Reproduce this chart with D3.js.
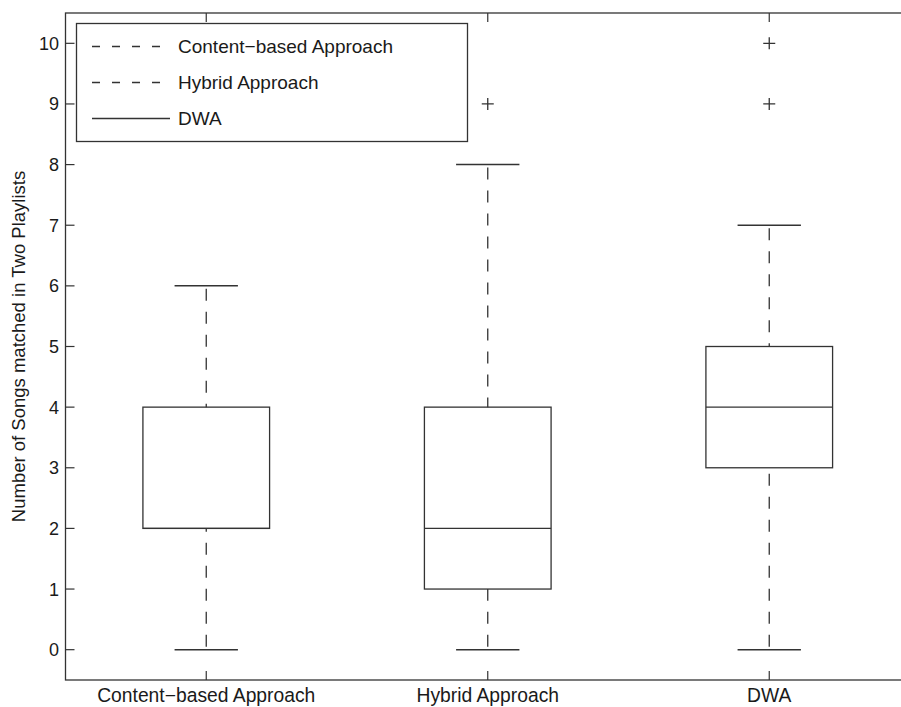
<!DOCTYPE html>
<html>
<head>
<meta charset="utf-8">
<script src="https://cdn.jsdelivr.net/npm/d3@7"></script>
<style>
  body { margin: 0; background: #fff; }
  text { font-family: "Liberation Sans", Arial, Helvetica, sans-serif; fill: #1a1a1a; }
</style>
</head>
<body>
<script>
// ---- data ----
const categories = ["Content\u2212based Approach", "Hybrid Approach", "DWA"];
const whiskerLow  = [0, 0, 0];
const q1          = [2, 1, 3];
const median      = [2, 2, 4];
const q3          = [4, 4, 5];
const whiskerHigh = [6, 8, 7];
const outliers    = [[], [9], [9, 10]];
const yTicks      = [0, 1, 2, 3, 4, 5, 6, 7, 8, 9, 10];
const legendItems = ["Content\u2212based Approach", "Hybrid Approach", "DWA"];
const legendDashed = [true, true, false];
const yLabel = "Number of Songs matched in Two Playlists";

const W = 901, H = 707;
const stroke = "#333";
const svg = d3.select("body").append("svg").attr("width", W).attr("height", H);

const x = d3.scaleLinear().domain([0.5, 3.5]).range([65.5, 910]);
const y = d3.scaleLinear().domain([-0.5, 10.5]).range([680, 13]);
const boxHalf = 0.225, capHalf = 0.1125;

// frame
svg.append("rect").attr("x", x(0.5)).attr("y", y(10.5))
  .attr("width", x(3.5) - x(0.5)).attr("height", y(-0.5) - y(10.5))
  .attr("fill", "none").attr("stroke", stroke).attr("stroke-width", 1.3);

const tickLen = 9;
// y ticks (inward)
const yt = svg.append("g");
yTicks.forEach(t => {
  yt.append("line").attr("x1", x(0.5)).attr("x2", x(0.5) + tickLen)
    .attr("y1", y(t)).attr("y2", y(t)).attr("stroke", stroke).attr("stroke-width", 1.2);
  yt.append("text").attr("x", 59).attr("y", y(t)).attr("dy", "0.36em")
    .attr("text-anchor", "end").attr("font-size", 18).text(t);
});
// x ticks (inward top and bottom)
categories.forEach((c, i) => {
  const cx = x(i + 1);
  svg.append("line").attr("x1", cx).attr("x2", cx).attr("y1", y(-0.5)).attr("y2", y(-0.5) - tickLen)
    .attr("stroke", stroke).attr("stroke-width", 1.2);
  svg.append("line").attr("x1", cx).attr("x2", cx).attr("y1", y(10.5)).attr("y2", y(10.5) + tickLen)
    .attr("stroke", stroke).attr("stroke-width", 1.2);
  svg.append("text").attr("x", cx).attr("y", 702).attr("text-anchor", "middle")
    .attr("font-size", 19.3).text(c);
});

// y label
svg.append("text").attr("transform", `translate(25,${(y(-0.5) + y(10.5)) / 2}) rotate(-90)`)
  .attr("text-anchor", "middle").attr("font-size", 18.5).text(yLabel);

// boxes
categories.forEach((c, i) => {
  const k = i + 1, g = svg.append("g");
  // whiskers
  g.append("line").attr("x1", x(k)).attr("x2", x(k)).attr("y1", y(whiskerHigh[i]) + 3).attr("y2", y(q3[i]))
    .attr("stroke", stroke).attr("stroke-width", 1.3).attr("stroke-dasharray", "12,11");
  g.append("line").attr("x1", x(k)).attr("x2", x(k)).attr("y1", y(whiskerLow[i]) - 3).attr("y2", y(q1[i]))
    .attr("stroke", stroke).attr("stroke-width", 1.3).attr("stroke-dasharray", "12,11");
  // caps
  [whiskerHigh[i], whiskerLow[i]].forEach(v => {
    g.append("line").attr("x1", x(k - capHalf)).attr("x2", x(k + capHalf)).attr("y1", y(v)).attr("y2", y(v))
      .attr("stroke", stroke).attr("stroke-width", 1.5);
  });
  // box
  g.append("rect").attr("x", x(k - boxHalf)).attr("y", y(q3[i]))
    .attr("width", x(k + boxHalf) - x(k - boxHalf)).attr("height", y(q1[i]) - y(q3[i]))
    .attr("fill", "none").attr("stroke", stroke).attr("stroke-width", 1.3);
  // median
  g.append("line").attr("x1", x(k - boxHalf)).attr("x2", x(k + boxHalf)).attr("y1", y(median[i])).attr("y2", y(median[i]))
    .attr("stroke", stroke).attr("stroke-width", 1.3);
  // outliers
  outliers[i].forEach(v => {
    g.append("path").attr("d", `M${x(k) - 6},${y(v)}h12M${x(k)},${y(v) - 6}v12`)
      .attr("stroke", stroke).attr("stroke-width", 1.3).attr("fill", "none");
  });
});

// legend
const lg = svg.append("g");
lg.append("rect").attr("x", 76.5).attr("y", 23.5).attr("width", 391).attr("height", 118)
  .attr("fill", "#fff").attr("stroke", stroke).attr("stroke-width", 1.3);
legendItems.forEach((t, i) => {
  const ly = 46.5 + i * 36;
  lg.append("line").attr("x1", 92).attr("x2", 170).attr("y1", ly).attr("y2", ly)
    .attr("stroke", stroke).attr("stroke-width", 1.3)
    .attr("stroke-dasharray", legendDashed[i] ? "8,12" : null);
  lg.append("text").attr("x", 178).attr("y", ly + 6.8).attr("font-size", 19).text(t);
});
</script>
</body>
</html>
